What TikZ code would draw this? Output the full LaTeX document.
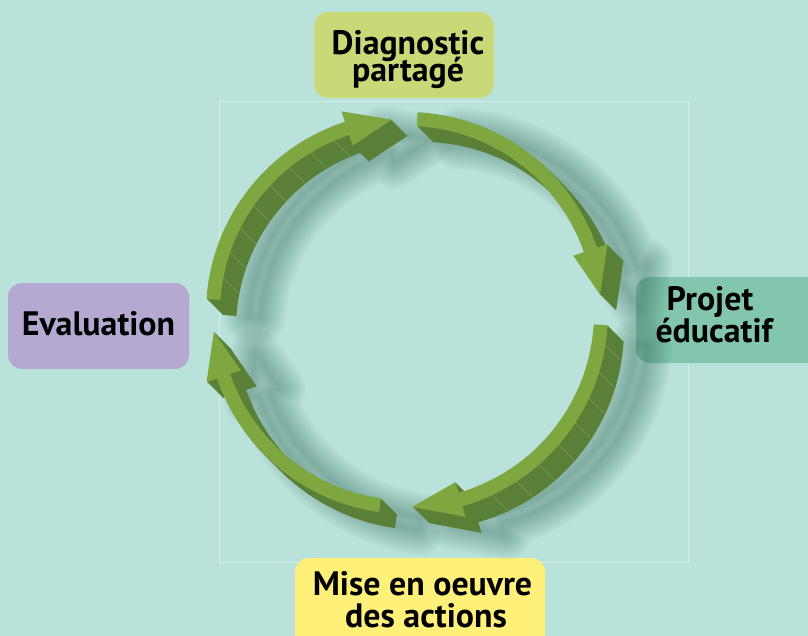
\documentclass[tikz,border=0pt]{standalone}
\usepackage{fontspec}
\setmainfont{PT Sans}
\begin{document}
\begin{tikzpicture}[x=1bp,y=-1bp,
  lbl/.style={anchor=base, inner sep=0pt, font=\bfseries\fontsize{34}{34}\selectfont, text=black},
  boxshape/.style={rounded corners=14bp},
  seg/.style={draw=segcol, line width=0.5bp},
  arrowp/.style n args={3}{insert path={(#1:187bp) -- (#1:201bp) arc[start angle=#1, end angle=#2, radius=201bp] -- (#2:212bp) -- (#3:194bp) -- (#2:176bp) -- (#2:187bp) arc[start angle=#2, end angle=#1, radius=187bp] -- cycle}}
]
\definecolor{bg}{HTML}{B9E3DA}
\definecolor{framecol}{HTML}{D2EFEA}
\definecolor{diagcol}{HTML}{C9D978}
\definecolor{projcol}{HTML}{83C6AE}
\definecolor{evalcol}{HTML}{B5A9D1}
\definecolor{misecol}{HTML}{FFF07A}
\definecolor{lightg}{HTML}{7EA83F}
\definecolor{darkg}{HTML}{5A7F36}
\definecolor{segcol}{HTML}{7E9F5C}
\definecolor{shcol}{HTML}{1E5545}
\useasboundingbox (0,0) rectangle (808,636);
\clip (0,0) rectangle (808,636);
\fill[bg] (0,0) rectangle (808,636);
\draw[framecol, line width=0.8bp] (219,101) rectangle (688,562);
% boxes
\fill[diagcol, boxshape] (314,12) rectangle (494,98);
\fill[projcol, boxshape] (636,277) rectangle (840,363);
\fill[evalcol, boxshape] (8,283) rectangle (189,369);
\fill[misecol, boxshape] (295,558) rectangle (545,670);
% shadows
\begin{scope}[shift={(448,332)}]
  \foreach \a/\b/\c in {176/108/94.5, 87/19/5.5, -3.5/-74/-88.5, 262/199/185.5} {
    \fill[shcol, opacity=0.035, arrowp={\a}{\b}{\c}];
    \foreach \w in {4,8,...,48} {
      \draw[shcol, opacity=0.03, line width=\w bp, line join=round, arrowp={\a}{\b}{\c}];
    }
  }
\end{scope}
% arrows
\foreach \a/\b/\c in {176/108/94.5, 87/19/5.5, -3.5/-74/-88.5, 262/199/185.5} {
  \foreach \k in {16,15,...,1} {
    \fill[darkg, shift={(407+\k,313+\k)}, arrowp={\a}{\b}{\c}];
  }
  \fill[lightg, shift={(407,313)}, arrowp={\a}{\b}{\c}];
}
% segment lines on side faces
\foreach \t in {169,161,...,113} {
  \draw[seg] ([shift={(407,313)}]\t:188bp) -- ([shift={(423,329)}]\t:188bp);
}
\foreach \t in {-9,-17,...,-67} {
  \draw[seg] ([shift={(407,313)}]\t:200bp) -- ([shift={(423,329)}]\t:200bp);
}
% labels
\node[lbl] (diag1) at (408,55) {Diagnostic};
\node[lbl] (diag2) at (408,82) {partagé};
\node[lbl] (proj1) at (710,310) {Projet};
\node[lbl] (proj2) at (714,342) {éducatif};
\node[lbl] (eval) at (98.5,335) {Evaluation};
\node[lbl] (mise1) at (422.5,595) {Mise en oeuvre};
\node[lbl] (mise2) at (426,627) {des actions};
\end{tikzpicture}
\end{document}
